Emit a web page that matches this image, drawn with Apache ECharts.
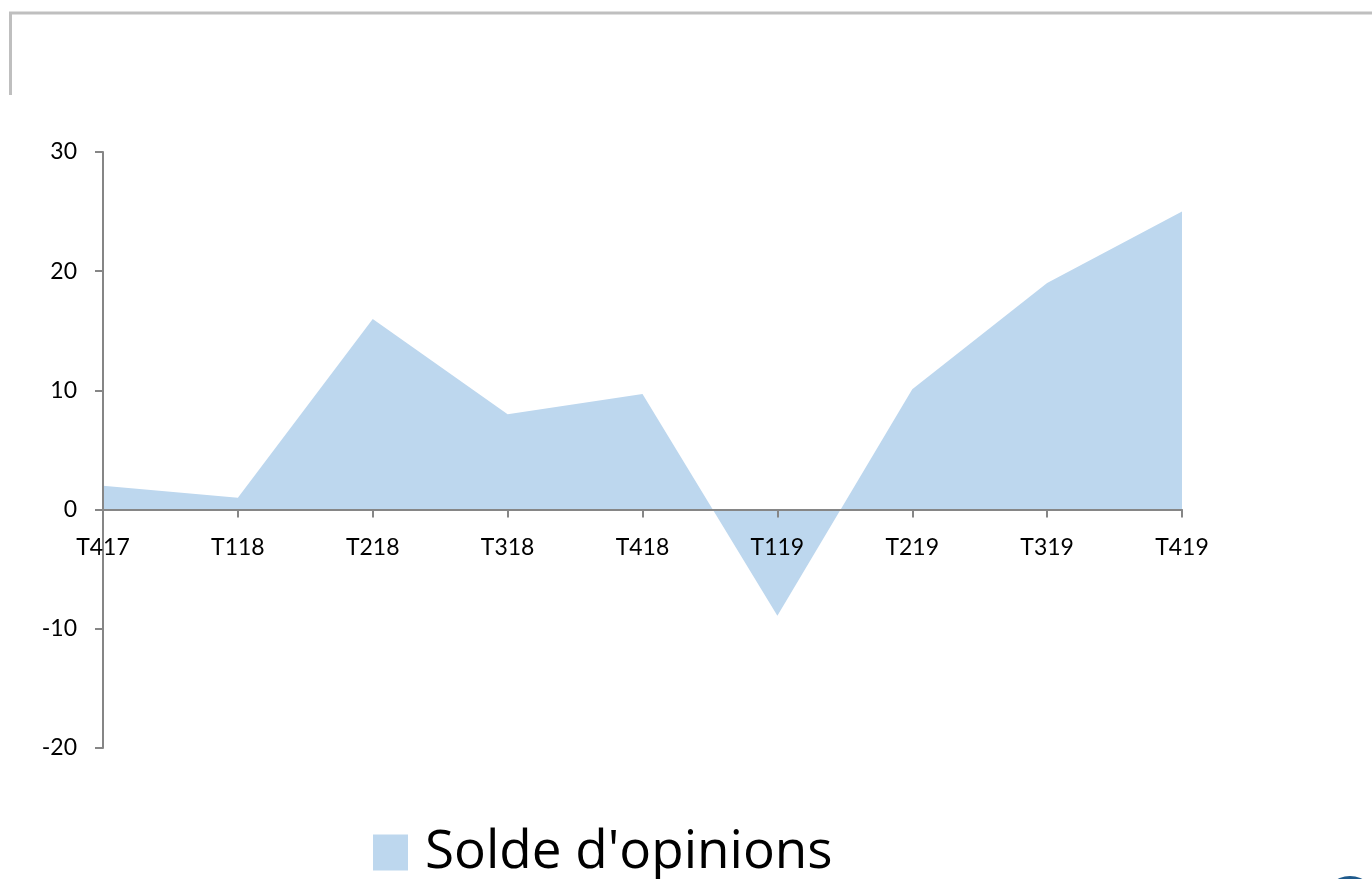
<!DOCTYPE html>
<html>
<head>
<meta charset="utf-8">
<script src="https://cdn.jsdelivr.net/npm/echarts@6/dist/echarts.min.js"></script>
<style>
html,body{margin:0;padding:0;background:#fff;}
#chart{width:1372px;height:879px;}
</style>
</head>
<body>
<div id="chart"></div>
<script>
const categories = ['T417','T118','T218','T318','T418','T119','T219','T319','T419'];
const soldeValues = [2, 1, 16, 8, 9.7, -8.9, 10.1, 19, 25];
const seriesName = "Solde d'opinions";
const yMin = -20, yMax = 30, yStep = 10;

const chart = echarts.init(document.getElementById('chart'));
const font = 'Lato, "Noto Sans", sans-serif';
const gridTop = 152, gridBottomPx = 748;
const zeroY = gridTop + (gridBottomPx - gridTop) * (yMax - 0) / (yMax - yMin);
chart.setOption({
  animation: false,
  backgroundColor: '#ffffff',
  grid: { left: 103, right: 190, top: gridTop, bottom: 879 - gridBottomPx, containLabel: false },
  legend: {
    data: [seriesName],
    left: 368, top: 821,
    itemWidth: 35, itemHeight: 36,
    icon: 'rect',
    textStyle: { fontSize: 53, color: '#000', fontFamily: '"Open Sans", sans-serif', padding: [0,0,0,12] }
  },
  xAxis: {
    type: 'category',
    data: categories,
    boundaryGap: false,
    z: 10,
    offset: -(gridBottomPx - zeroY),
    axisLine: { onZero: false, lineStyle: { color: '#868686', width: 2 } },
    axisTick: { show: true, length: 8, lineStyle: { color: '#868686', width: 2 } },
    axisLabel: { color: '#000', fontSize: 23, fontFamily: font, margin: 26, interval: 0 },
    splitLine: { show: false }
  },
  yAxis: {
    type: 'value',
    min: yMin, max: yMax, interval: yStep,
    z: 10,
    axisLine: { show: true, onZero: false, lineStyle: { color: '#868686', width: 2 } },
    axisTick: { show: true, length: 8, lineStyle: { color: '#868686', width: 2 } },
    axisLabel: { color: '#000', fontSize: 23, fontFamily: font, margin: 26 },
    splitLine: { show: false }
  },
  series: [{
    name: seriesName,
    type: 'line',
    data: soldeValues,
    symbol: 'none',
    lineStyle: { width: 0, color: '#bdd7ee' },
    itemStyle: { color: '#bdd7ee' },
    areaStyle: { color: '#bdd7ee', opacity: 1 },
    z: 2
  }],
  graphic: [
    { type: 'line', shape: { x1: 9, y1: 13, x2: 1372, y2: 13 }, style: { stroke: '#bfbfbf', lineWidth: 3 } },
    { type: 'line', shape: { x1: 10.5, y1: 12, x2: 10.5, y2: 95 }, style: { stroke: '#bfbfbf', lineWidth: 3 } },
    { type: 'circle', shape: { cx: 1350, cy: 903, r: 27 }, style: { fill: '#1f5a8c' } }
  ]
});
</script>
</body>
</html>
